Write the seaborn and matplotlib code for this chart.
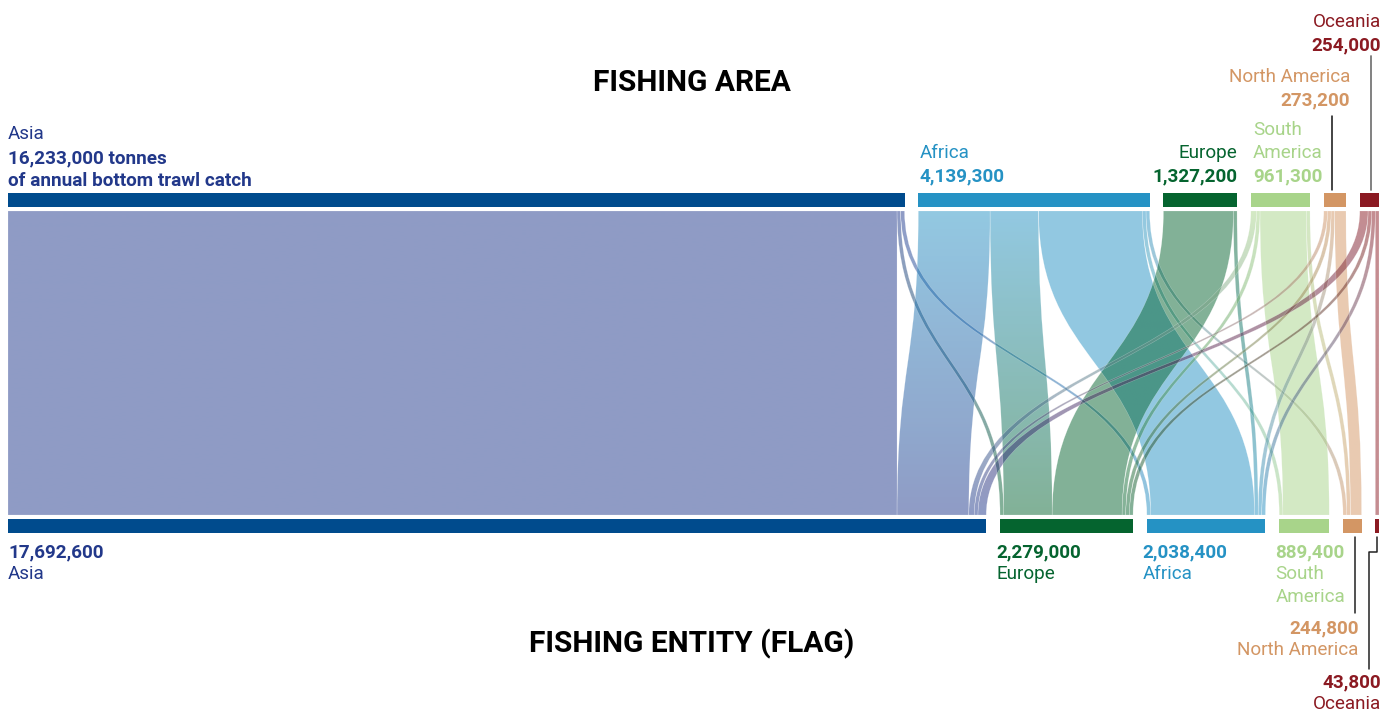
import numpy as np
import matplotlib
matplotlib.use("Agg")
import matplotlib.pyplot as plt
from matplotlib.path import Path
from matplotlib.patches import PathPatch, Rectangle
from matplotlib.colors import to_rgb
import seaborn as sns

# ---------------- data (thousand tonnes of annual bottom trawl catch) ----------------
areas = ["Asia", "Africa", "Europe", "South America", "North America", "Oceania"]
area_totals = [16233.0, 4139.3, 1327.2, 961.3, 273.2, 254.0]
flags = ["Asia", "Europe", "Africa", "South America", "North America", "Oceania"]
flag_totals = [17692.6, 2279.0, 2038.4, 889.4, 244.8, 43.8]

# flows from fishing area (rows) to flag (columns, in `flags` order)
flow_asia = [16103.0, 60.0, 70.0, 0.0, 0.0, 0.0]
flow_africa = [1300.0, 877.9, 1880.2, 50.0, 31.2, 0.0]
flow_europe = [0.0, 1267.2, 60.0, 0.0, 0.0, 0.0]
flow_south_america = [100.0, 11.9, 0.0, 839.4, 10.0, 0.0]
flow_north_america = [39.6, 20.0, 10.0, 0.0, 203.6, 0.0]
flow_oceania = [150.0, 42.0, 18.2, 0.0, 0.0, 43.8]
flow_matrix = [flow_asia, flow_africa, flow_europe,
               flow_south_america, flow_north_america, flow_oceania]

bar_colors = {"Asia": "#004b8d", "Africa": "#2592c4", "Europe": "#05642f",
              "South America": "#a8d48a", "North America": "#d39664",
              "Oceania": "#8b1a22"}
text_colors = dict(bar_colors, Asia="#22388a")
flow_colors = dict(bar_colors, Asia="#1e378c")

# ---------------- style ----------------
sns.set_theme(style="white")
plt.rcParams["font.family"] = ["Roboto", "DejaVu Sans"]

W, H = 1397, 711
fig = plt.figure(figsize=(W / 100, H / 100), dpi=100)
ax = fig.add_axes([0, 0, 1, 1])
ax.set_axis_off()

GAP = 250.0          # gap between nodes (data units)
MIN_LINK = 66.0      # minimum drawn link width (data units) so tiny flows stay visible

# drawn width of each link
links = []
for i in range(len(areas)):
    for j in range(len(flags)):
        v = flow_matrix[i][j]
        if v > 0:
            links.append({"i": i, "j": j, "v": v, "w": max(v, MIN_LINK)})

top_w = [sum(l["w"] for l in links if l["i"] == i) for i in range(len(areas))]
bot_w = [sum(l["w"] for l in links if l["j"] == j) for j in range(len(flags))]

span = sum(top_w) + GAP * (len(areas) - 1)
left_px, right_px = 8, 1379
s = (right_px - left_px) / span  # pixels per data unit
X0 = -left_px / s
X1 = X0 + W / s


def px(p):
    return p / s


# vertical layout (pixels)
TOP_BAR = (193, 207)
FLOW_TOP, FLOW_BOT = 211, 515
BOT_BAR = (519, 533)


def node_positions(widths):
    pos, x = [], 0.0
    for w in widths:
        pos.append((x, x + w))
        x += w + GAP
    return pos


top_pos = node_positions(top_w)
bot_pos = node_positions(bot_w)

# bars
for name, (a, b) in zip(areas, top_pos):
    ax.add_patch(Rectangle((a, TOP_BAR[0]), b - a, TOP_BAR[1] - TOP_BAR[0],
                           facecolor=bar_colors[name], edgecolor="none", zorder=3))
for name, (a, b) in zip(flags, bot_pos):
    ax.add_patch(Rectangle((a, BOT_BAR[0]), b - a, BOT_BAR[1] - BOT_BAR[0],
                           facecolor=bar_colors[name], edgecolor="none", zorder=3))

# link offsets: top ordered by target, bottom ordered by source
top_cursor = [p[0] for p in top_pos]
for l in links:
    l["a0"] = top_cursor[l["i"]]
    top_cursor[l["i"]] += l["w"]
    l["a1"] = top_cursor[l["i"]]
bot_cursor = [p[0] for p in bot_pos]
for j in range(len(flags)):
    for l in links:
        if l["j"] == j:
            l["b0"] = bot_cursor[j]
            bot_cursor[j] += l["w"]
            l["b1"] = bot_cursor[j]

ym = (FLOW_TOP + FLOW_BOT) / 2
n = 96
for l in links:
    a0, a1, b0, b1 = l["a0"], l["a1"], l["b0"], l["b1"]
    verts = [(a0, FLOW_TOP), (a0, ym), (b0, ym), (b0, FLOW_BOT),
             (b1, FLOW_BOT), (b1, ym), (a1, ym), (a1, FLOW_TOP), (a0, FLOW_TOP)]
    codes = [Path.MOVETO, Path.CURVE4, Path.CURVE4, Path.CURVE4,
             Path.LINETO, Path.CURVE4, Path.CURVE4, Path.CURVE4, Path.CLOSEPOLY]
    patch = PathPatch(Path(verts, codes), facecolor="none",
                      edgecolor=(1, 1, 1, 0.4), lw=0.3, zorder=2.5)
    ax.add_patch(patch)
    c0 = np.array(to_rgb(flow_colors[areas[l["i"]]]))
    c1 = np.array(to_rgb(flow_colors[flags[l["j"]]]))
    t = np.linspace(0, 1, n)[:, None]
    rgb = (1 - t) * c0 + t * c1
    img = np.concatenate([rgb, np.full((n, 1), 0.5)], axis=1).reshape(n, 1, 4)
    xmin, xmax = min(a0, b0), max(a1, b1)
    im = ax.imshow(img, extent=(xmin, xmax, FLOW_BOT, FLOW_TOP), origin="upper",
                   aspect="auto", interpolation="bilinear", zorder=2)
    im.set_clip_path(patch)


def fmt(v):
    return f"{int(round(v * 1000)):,}"


FS = 13.6


def label(x, y, txt, color, bold=False, ha="left"):
    ax.text(x, y, txt, color=color, fontsize=FS, ha=ha, va="baseline",
            fontweight="bold" if bold else "normal", zorder=5)


# ---- top labels ----
d = dict(zip(areas, zip(area_totals, top_pos)))
v, (a, b) = d["Asia"]
label(a, 139, "Asia", text_colors["Asia"])
label(a, 163, f"{fmt(v)} tonnes", text_colors["Asia"], True)
label(a, 186, "of annual bottom trawl catch", text_colors["Asia"], True)

v, (a, b) = d["Africa"]
label(a + px(1), 158, "Africa", text_colors["Africa"])
label(a + px(1), 181, fmt(v), text_colors["Africa"], True)

v, (a, b) = d["Europe"]
label(b, 158, "Europe", text_colors["Europe"], ha="right")
label(b, 181, fmt(v), text_colors["Europe"], True, ha="right")

v, (a, b) = d["South America"]
label(a + px(2), 135, "South", text_colors["South America"])
label(a + px(2), 158, "America", text_colors["South America"])
label(a + px(2), 181, fmt(v), text_colors["South America"], True)

v, (a, b) = d["North America"]
label(b + px(4), 82, "North America", text_colors["North America"], ha="right")
label(b + px(4), 105, fmt(v), text_colors["North America"], True, ha="right")
ax.plot([a + px(8)] * 2, [116, 190], color="#111111", lw=1.1, zorder=4)

v, (a, b) = d["Oceania"]
label(b + px(2), 27, "Oceania", text_colors["Oceania"], ha="right")
label(b + px(2), 50, fmt(v), text_colors["Oceania"], True, ha="right")
ax.plot([(a + b) / 2 + px(2)] * 2, [56, 190], color="#777777", lw=1.3, zorder=4)

# ---- bottom labels ----
d = dict(zip(flags, zip(flag_totals, bot_pos)))
for name in ["Asia", "Europe", "Africa"]:
    v, (a, b) = d[name]
    off = px(-4) if name != "Asia" else 0
    label(a + off, 557, fmt(v), text_colors[name], True)
    label(a + off, 579, name, text_colors[name])

v, (a, b) = d["South America"]
label(a - px(4), 557, fmt(v), text_colors["South America"], True)
label(a - px(4), 579, "South", text_colors["South America"])
label(a - px(4), 602, "America", text_colors["South America"])

v, (a, b) = d["North America"]
label(b - px(3), 633, fmt(v), text_colors["North America"], True, ha="right")
label(b - px(3), 655, "North America", text_colors["North America"], ha="right")
ax.plot([b - px(7)] * 2, [537, 613], color="#222222", lw=1.1, zorder=4)

v, (a, b) = d["Oceania"]
label(b + px(2), 687, fmt(v), text_colors["Oceania"], True, ha="right")
label(b + px(2), 709, "Oceania", text_colors["Oceania"], ha="right")
cx = (a + b) / 2
ax.plot([cx, cx, cx - px(8), cx - px(8)], [537, 552, 552, 669],
        color="#222222", lw=1.1, zorder=4)

# ---- titles ----
xc = X0 + px(692)
ax.text(xc, 91, "FISHING AREA", fontsize=21.5, fontweight="bold", color="black",
        ha="center", va="baseline")
ax.text(xc, 652, "FISHING ENTITY (FLAG)", fontsize=21.5, fontweight="bold",
        color="black", ha="center", va="baseline")

ax.set_xlim(X0, X1)
ax.set_ylim(H, 0)
fig.savefig("out.png", dpi=100, facecolor="white")
